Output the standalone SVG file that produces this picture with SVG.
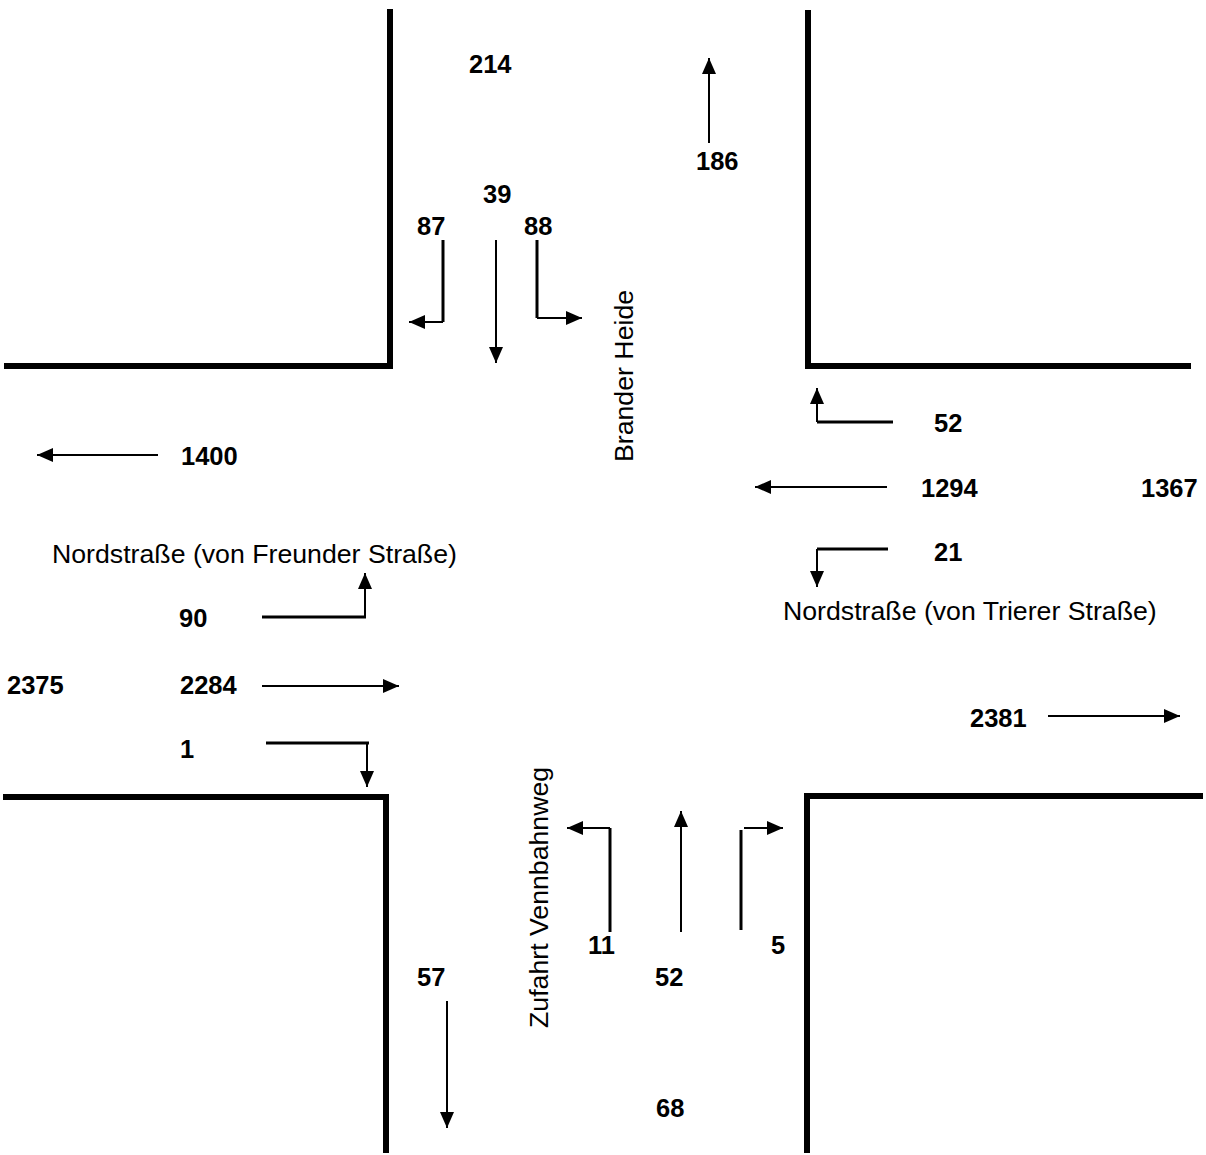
<svg xmlns="http://www.w3.org/2000/svg" width="1206" height="1155" viewBox="0 0 1206 1155">
<style>
.wall{fill:none;stroke:#000;stroke-width:6;stroke-linecap:square}
.a{fill:none;stroke:#000;stroke-width:2}
.e{fill:none;stroke:#000;stroke-width:3}
.n{font-family:"Liberation Sans",Arial,sans-serif;font-weight:bold;font-size:25.5px;fill:#000}
.l{font-family:"Liberation Sans",Arial,sans-serif;font-size:26.7px;fill:#000}
</style>
<defs>
<marker id="ah" markerUnits="userSpaceOnUse" markerWidth="16" markerHeight="14" refX="16" refY="7" orient="auto" overflow="visible">
<path d="M0,0 L16,7 L0,14 z" fill="#000"/>
</marker>
</defs>
<rect width="1206" height="1155" fill="#fff"/>
<g id="roads">
<path class="wall" d="M390,12 V366 H7"/>
<path class="wall" d="M808,13 V366 H1188"/>
<path class="wall" d="M6,797 H386 V1150"/>
<path class="wall" d="M1200,796 H807 V1150"/>
</g>
<g id="connectors">
<path class="e" d="M443,240 V322"/><path class="a" d="M443,322 H409" marker-end="url(#ah)"/>
<path class="a" d="M496,240 V363" marker-end="url(#ah)"/>
<path class="e" d="M537,240 V318"/><path class="a" d="M537,318 H582" marker-end="url(#ah)"/>
<path class="a" d="M709,143 V58" marker-end="url(#ah)"/>
<path class="a" d="M158,455 H37" marker-end="url(#ah)"/>
<path class="e" d="M893,422 H817"/><path class="a" d="M817,422 V388" marker-end="url(#ah)"/>
<path class="a" d="M887,487 H755" marker-end="url(#ah)"/>
<path class="e" d="M888,549 H817"/><path class="a" d="M817,549 V587" marker-end="url(#ah)"/>
<path class="e" d="M262,617 H366"/><path class="a" d="M365,617 V573" marker-end="url(#ah)"/>
<path class="a" d="M262,686 H399" marker-end="url(#ah)"/>
<path class="e" d="M266,743 H369"/><path class="a" d="M367,743 V787" marker-end="url(#ah)"/>
<path class="a" d="M1048,716 H1180" marker-end="url(#ah)"/>
<path class="e" d="M610,932 V828"/><path class="a" d="M610,828 H567" marker-end="url(#ah)"/>
<path class="a" d="M681,932 V811" marker-end="url(#ah)"/>
<path class="e" d="M741,930 V830"/><path class="a" d="M744,828 H783" marker-end="url(#ah)"/>
<path class="a" d="M447,1001 V1128" marker-end="url(#ah)"/>
</g>
<g id="label-214"><text class="n" x="469" y="73">214</text></g>
<g id="label-186"><text class="n" x="696" y="170">186</text></g>
<g id="label-39"><text class="n" x="483" y="203">39</text></g>
<g id="label-87"><text class="n" x="417" y="235">87</text></g>
<g id="label-88"><text class="n" x="524" y="235">88</text></g>
<g id="label-brander"><text class="l" transform="translate(633,462) rotate(-90)">Brander Heide</text></g>
<g id="label-1400"><text class="n" x="181" y="465">1400</text></g>
<g id="label-52r"><text class="n" x="934" y="432">52</text></g>
<g id="label-1294"><text class="n" x="921" y="497">1294</text></g>
<g id="label-1367"><text class="n" x="1141" y="497">1367</text></g>
<g id="label-21"><text class="n" x="934" y="561">21</text></g>
<g id="label-trier"><text class="l" x="783" y="620">Nordstraße (von Trierer Straße)</text></g>
<g id="label-freund"><text class="l" x="52" y="563">Nordstraße (von Freunder Straße)</text></g>
<g id="label-90"><text class="n" x="179" y="627">90</text></g>
<g id="label-2375"><text class="n" x="7" y="694">2375</text></g>
<g id="label-2284"><text class="n" x="180" y="694">2284</text></g>
<g id="label-1"><text class="n" x="180" y="758">1</text></g>
<g id="label-2381"><text class="n" x="970" y="727">2381</text></g>
<g id="label-zufahrt"><text class="l" transform="translate(548,1028) rotate(-90)">Zufahrt Vennbahnweg</text></g>
<g id="label-11"><text class="n" x="588" y="954">11</text></g>
<g id="label-5"><text class="n" x="771" y="954">5</text></g>
<g id="label-52b"><text class="n" x="655" y="986">52</text></g>
<g id="label-57"><text class="n" x="417" y="986">57</text></g>
<g id="label-68"><text class="n" x="656" y="1117">68</text></g>
</svg>
